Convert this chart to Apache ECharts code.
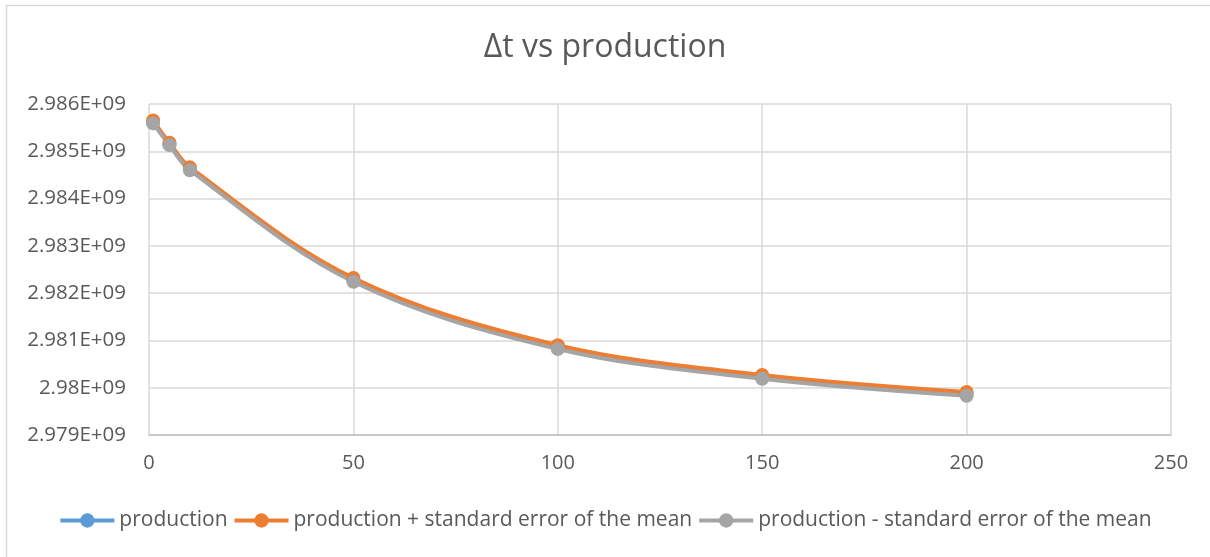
<!DOCTYPE html>
<html>
<head>
<meta charset="utf-8">
<script src="https://cdn.jsdelivr.net/npm/echarts@6/dist/echarts.min.js"></script>
<style>
  html, body { margin: 0; padding: 0; background: #fff; }
  #chart { width: 1210px; height: 557px; }
</style>
</head>
<body>
<div id="chart"></div>
<script>
// Production runs (x) and the measured Δt values
const xValues = [1, 5, 10, 50, 100, 150, 200];
const production = [2985620000, 2985155000, 2984630000, 2982280000, 2980860000, 2980230000, 2979870000];
const productionPlusSem = [2985650000, 2985180000, 2984660000, 2982320000, 2980900000, 2980270000, 2979910000];
const productionMinusSem = [2985590000, 2985130000, 2984600000, 2982240000, 2980820000, 2980190000, 2979830000];

const seriesNames = [
  'production',
  'production + standard error of the mean',
  'production - standard error of the mean'
];
const seriesColors = ['#5B9BD5', '#ED7D31', '#A5A5A5'];
const seriesValues = [production, productionPlusSem, productionMinusSem];

const FONT = '"Open Sans", sans-serif';
const TEXT = '#595959';

// Excel "General" style scientific label, e.g. 2.98E+09
function sci(v) {
  return parseFloat((v / 1e9).toFixed(3)) + 'E+09';
}

const chart = echarts.init(document.getElementById('chart'), null, { renderer: 'canvas' });

chart.setOption({
  animation: false,
  backgroundColor: '#fff',
  title: {
    text: 'Δt vs production',
    left: 'center',
    top: 27,
    textStyle: { fontFamily: FONT, fontSize: 32, fontWeight: 'normal', color: TEXT }
  },
  graphic: [{
    type: 'rect',
    shape: { x: 6.5, y: 5.5, width: 1300, height: 700 },
    style: { fill: 'none', stroke: '#d9d9d9', lineWidth: 1.5 },
    silent: true,
    z: -1
  }],
  legend: {
    bottom: 21,
    left: 'center',
    itemWidth: 54,
    itemHeight: 18,
    itemGap: 5,
    lineStyle: { width: 4 },
    textStyle: { fontFamily: FONT, fontSize: 21, color: TEXT, padding: [0, 0, 0, 0] },
    data: seriesNames
  },
  grid: { left: 149, right: 39, top: 104, bottom: 122, containLabel: false },
  xAxis: {
    type: 'value',
    min: 0,
    max: 250,
    interval: 50,
    axisLine: { show: true, lineStyle: { color: '#bfbfbf', width: 1.5 } },
    axisTick: { show: false },
    axisLabel: { fontFamily: FONT, fontSize: 20, color: TEXT, margin: 18 },
    splitLine: { show: true, lineStyle: { color: '#d9d9d9', width: 1.5 } }
  },
  yAxis: {
    type: 'value',
    min: 2979000000,
    max: 2986000000,
    interval: 1000000,
    axisLine: { show: false },
    axisTick: { show: false },
    axisLabel: { fontFamily: FONT, fontSize: 20.5, color: TEXT, margin: 23, formatter: sci },
    splitLine: { show: true, lineStyle: { color: '#d9d9d9', width: 1.5 } }
  },
  series: seriesNames.map((name, i) => ({
    name: name,
    type: 'line',
    smooth: 0.35,
    symbol: 'circle',
    symbolSize: 14,
    showSymbol: true,
    color: seriesColors[i],
    lineStyle: { width: 4, color: seriesColors[i] },
    itemStyle: { color: seriesColors[i] },
    data: xValues.map((x, j) => [x, seriesValues[i][j]])
  }))
});
</script>
</body>
</html>
